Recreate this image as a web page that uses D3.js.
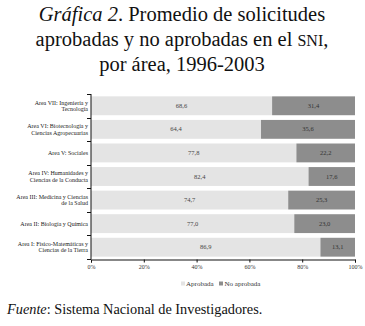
<!DOCTYPE html>
<html><head><meta charset="utf-8">
<script src="https://cdn.jsdelivr.net/npm/d3@7"></script>
<style>body{margin:0;background:#fff}svg{display:block}</style>
</head><body>
<script>
const categories = [
  ["Area VII: Ingeniería y","Tecnología"],
  ["Area VI: Biotecnología y","Ciencias Agropecuarias"],
  ["Area V: Sociales"],
  ["Area IV: Humanidades y","Ciencias de la Conducta"],
  ["Area III: Medicina y Ciencias","de la Salud"],
  ["Area II: Biología y Química"],
  ["Area I: Físico-Matemáticas y","Ciencias de la Tierra"]
];
const aprobada = [68.6, 64.4, 77.8, 82.4, 74.7, 77.0, 86.9];
const noAprobada = [31.4, 35.6, 22.2, 17.6, 25.3, 23.0, 13.1];
const xTicks = [0, 20, 40, 60, 80, 100];
const seriesNames = ["Aprobada", "No aprobada"];

const W = 365, H = 326;
const svg = d3.select("body").append("svg").attr("width", W).attr("height", H);
const serif = "'Liberation Serif', 'DejaVu Serif', serif";

// Title
const title = svg.append("text").attr("text-anchor","middle").attr("font-family",serif)
  .attr("font-size",20.5).attr("fill","#111");
const l1 = title.append("tspan").attr("x",182).attr("y",21);
l1.append("tspan").attr("font-style","italic").text("Gráfica 2");
l1.append("tspan").text(". Promedio de solicitudes");
const l2 = title.append("tspan").attr("x",182).attr("y",46);
l2.append("tspan").text("aprobadas y no aprobadas en el ");
l2.append("tspan").attr("font-size",16).text("SNI");
l2.append("tspan").text(",");
title.append("tspan").attr("x",182).attr("y",71).text("por área, 1996-2003");

const x = d3.scaleLinear().domain([0,100]).range([91,355]);
const idx = d3.range(categories.length);
const y = d3.scaleBand().domain(idx).range([94,259]).paddingInner(0.2).paddingOuter(0.1);

const colors = ["#e4e4e4", "#8d8d8d"];

const g = svg.append("g");
idx.forEach(i => {
  const a = aprobada[i], n = noAprobada[i];
  g.append("rect").attr("x", x(0)).attr("y", y(i)).attr("width", x(a)-x(0)).attr("height", y.bandwidth()).attr("fill", colors[0]);
  g.append("rect").attr("x", x(a)).attr("y", y(i)).attr("width", x(a+n)-x(a)).attr("height", y.bandwidth()).attr("fill", colors[1]);
  const cy = y(i) + y.bandwidth()/2;
  g.append("text").attr("x",(x(0)+x(a))/2).attr("y",cy+2).attr("text-anchor","middle")
    .attr("font-family",serif).attr("font-size",6.5).attr("fill","#444").text(a.toFixed(1).replace(".",","));
  g.append("text").attr("x",(x(a)+x(a+n))/2).attr("y",cy+2).attr("text-anchor","middle")
    .attr("font-family",serif).attr("font-size",6.5).attr("fill","#333").text(n.toFixed(1).replace(".",","));
  const lines = categories[i];
  const t = g.append("text").attr("text-anchor","end").attr("font-family",serif).attr("font-size",6).attr("fill","#222");
  const lh = 6.5;
  lines.forEach((s,k) => {
    t.append("tspan").attr("x",88).attr("y", cy + 2 + (k - (lines.length-1)/2)*lh).text(s);
  });
});

// Y axis line and boundary ticks
const axisColor = "#111";
svg.append("line").attr("x1",91).attr("x2",91).attr("y1",94).attr("y2",259).attr("stroke",axisColor).attr("stroke-width",1);
const y0 = y.range()[0];
for (let k=0;k<=categories.length;k++){
  const yy = Math.round(y0 + k*(259-94)/categories.length);
  svg.append("line").attr("x1",87).attr("x2",91).attr("y1",yy+0.5).attr("y2",yy+0.5).attr("stroke",axisColor);
}

// X axis
const xAxis = svg.append("g").attr("transform","translate(0,259.5)")
  .call(d3.axisBottom(x).tickValues(xTicks).tickSize(3).tickFormat(d => d + "%"));
xAxis.select(".domain").attr("stroke",axisColor);
xAxis.selectAll(".tick line").attr("stroke",axisColor);
xAxis.selectAll("text").attr("font-family",serif).attr("font-size",6).attr("fill","#333").attr("dy","0.6em");

// Legend
const leg = svg.append("g").attr("font-family",serif).attr("font-size",7).attr("fill","#333");
leg.append("rect").attr("x",181).attr("y",281.5).attr("width",4).attr("height",4).attr("fill",colors[0]);
leg.append("text").attr("x",186).attr("y",286).text(seriesNames[0]);
leg.append("rect").attr("x",219).attr("y",281.5).attr("width",4).attr("height",4).attr("fill",colors[1]);
leg.append("text").attr("x",224.5).attr("y",286).text(seriesNames[1]);

// Footer
const f = svg.append("text").attr("x",7).attr("y",314).attr("font-family",serif).attr("font-size",14.3).attr("fill","#111");
f.append("tspan").attr("font-style","italic").text("Fuente");
f.append("tspan").text(": Sistema Nacional de Investigadores.");
</script>
</body></html>
